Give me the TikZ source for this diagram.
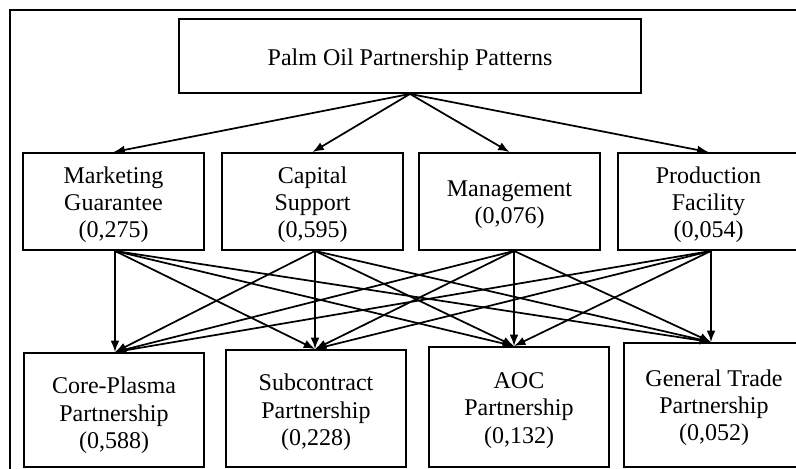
\documentclass[tikz,border=0pt]{standalone}
\usepackage{fontspec}
\setmainfont{Liberation Serif}
\usetikzlibrary{arrows.meta}
\begin{document}
\begin{tikzpicture}[x=0.75pt,y=-0.75pt,
  box/.style={draw, line width=1.4pt, inner sep=0pt},
  txt/.style={align=center, inner sep=0pt, font=\fontsize{18}{20.5}\selectfont},
  midbox/.style={box, minimum width=135.75pt, minimum height=72.75pt},
  botbox/.style={box, minimum width=135pt},
  arr/.style={-{Latex[length=8.5pt,width=6.5pt]}, line width=1.3pt}]
\useasboundingbox (0,0) rectangle (796,468);
\clip (0,0) rectangle (796,468);
\draw[line width=0.9pt] (10,10) rectangle (830,500);
% boxes
\node[box, minimum width=346.5pt, minimum height=55.5pt] (top) at (410,56) {};
\node[midbox] (m1) at (113.5,201.5) {};
\node[midbox] (m2) at (312.5,201.5) {};
\node[midbox] (m3) at (509.5,201.5) {};
\node[midbox] (m4) at (708.5,201.5) {};
\node[botbox, minimum height=85.5pt] (b1) at (114,410) {};
\node[botbox, minimum height=87.75pt] (b2) at (316,408.5) {};
\node[botbox, minimum height=90pt] (b3) at (519,407) {};
\node[botbox, minimum height=93pt] (b4) at (714,405) {};
% texts
\node[txt] (ttop) at ([yshift=-3pt]top.center) {Palm Oil Partnership Patterns};
\node[txt] (tm1) at ([yshift=-2.5pt]m1.center) {Marketing\\Guarantee\\(0,275)};
\node[txt] (tm2) at ([yshift=-2.5pt]m2.center) {Capital\\Support\\(0,595)};
\node[txt] (tm3) at ([yshift=-2.5pt]m3.center) {Management\\(0,076)};
\node[txt] (tm4) at ([yshift=-2.5pt]m4.center) {Production\\Facility\\(0,054)};
\node[txt] (tb1) at ([yshift=-4pt]b1.center) {Core-Plasma\\Partnership\\(0,588)};
\node[txt] (tb2) at ([yshift=-3pt]b2.center) {Subcontract\\Partnership\\(0,228)};
\node[txt] (tb3) at ([yshift=-2.5pt]b3.center) {AOC\\Partnership\\(0,132)};
\node[txt] (tb4) at ([yshift=-2pt]b4.center) {General Trade\\Partnership\\(0,052)};
% connector end points
\coordinate (s1) at ([xshift=1.1pt]m1.south);
\coordinate (s2) at ([xshift=1.9pt]m2.south);
\coordinate (s3) at ([xshift=3.4pt]m3.south);
\coordinate (s4) at ([xshift=1.9pt]m4.south);
\coordinate (t1) at (s1 |- b1.north);
\coordinate (t2) at (s2 |- b2.north);
\coordinate (t3) at (s3 |- b3.north);
\coordinate (t4) at (s4 |- b4.north);
\foreach \m in {m1,m2,m3,m4} \draw[arr] (top.south) -- (\m.north);
\foreach \s in {s1,s2,s3,s4} {
  \foreach \t in {t1,t2,t3,t4} \draw[arr] (\s) -- (\t);
}
\end{tikzpicture}
\end{document}
